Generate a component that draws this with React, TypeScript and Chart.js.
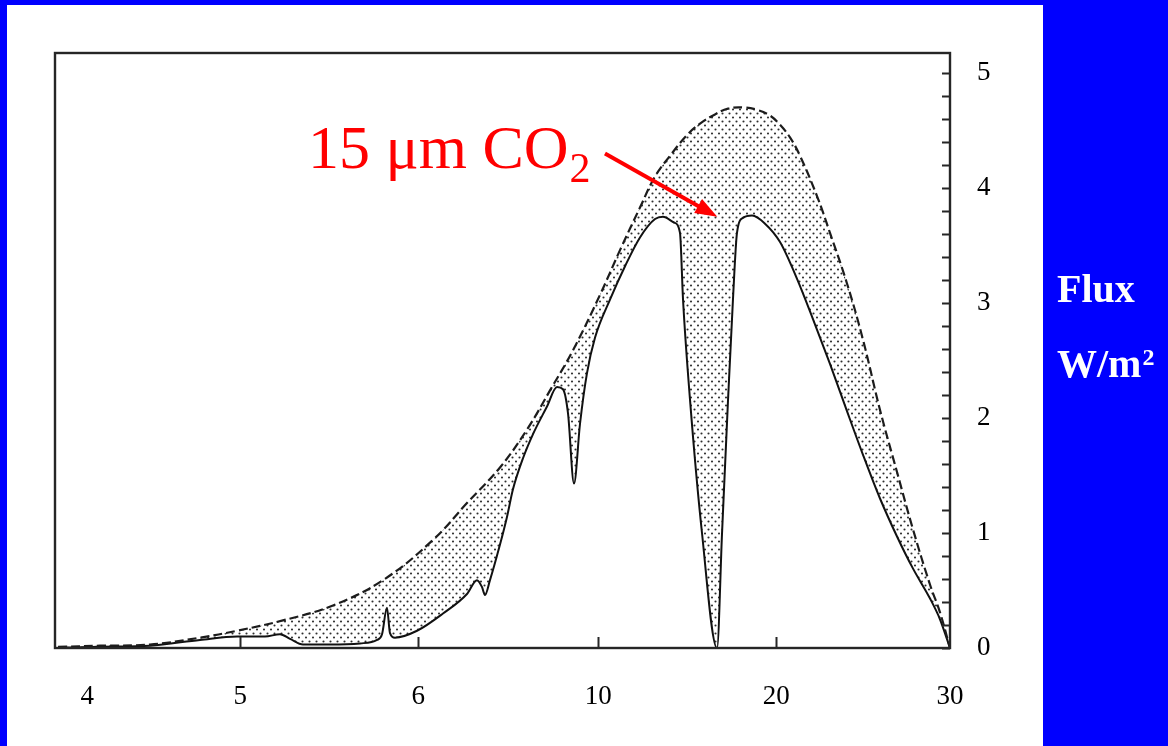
import React, { useEffect, useRef } from "react";
import { Chart, registerables } from "chart.js";

Chart.register(...registerables);

// Bottom axis: positions along a 0–100 span and the labels printed there
const xTickPositions = [3.6, 20.7, 40.6, 60.7, 80.6, 100];
const xTickLabels = ["4", "5", "6", "10", "20", "30"];
// Short upward tick marks on the bottom axis
const xTickMarks = [20.7, 40.6, 60.7, 80.6];

// Right axis: labelled values and the spacing of the small inward ticks
const yTickValues = [0, 1, 2, 3, 4, 5];
const yMinorStep = 0.2;
const yMax = 5.174;

// Blackbody envelope (dashed curve)
const envelopeX = [0.34, 5.03, 10.61, 16.2, 20.34, 25.47, 31.06, 36.65, 42.23, 46.03, 49.72, 52.74, 55.31, 57.88, 60.89, 63.13, 65.36, 67.04, 68.72, 70.61, 72.07, 73.74, 75.2, 76.87, 78.44, 79.89, 81.01, 82.12, 83.24, 85.14, 86.59, 88.49, 90.28, 92.18, 94.08, 95.87, 97.77, 98.88, 100];
const envelopeY = [0.01, 0.02, 0.03, 0.09, 0.15, 0.24, 0.37, 0.59, 0.94, 1.26, 1.57, 1.9, 2.24, 2.59, 3.07, 3.46, 3.83, 4.1, 4.28, 4.46, 4.56, 4.64, 4.69, 4.7, 4.68, 4.63, 4.55, 4.44, 4.28, 3.93, 3.61, 3.17, 2.68, 2.07, 1.53, 1.03, 0.55, 0.31, 0];

// Emitted spectrum (solid curve)
const emissionX = [0.34, 5.03, 10.61, 16.2, 20.34, 23.46, 25.14, 26.26, 27.71, 30.73, 34.08, 35.98, 36.54, 37.09, 37.43, 37.99, 40.45, 43.35, 46.03, 47.15, 47.71, 48.04, 48.6, 49.72, 50.5, 51.17, 52.29, 53.41, 54.97, 56.09, 56.76, 57.32, 57.99, 58.66, 59.44, 60.34, 62.01, 63.69, 65.36, 67.04, 67.93, 69.16, 69.83, 70.17, 70.95, 72.29, 73.97, 74.53, 75.2, 75.75, 76.2, 76.87, 77.88, 79.33, 81.01, 82.91, 84.69, 86.59, 88.49, 90.28, 92.18, 94.08, 95.87, 97.77, 98.88, 100];
const emissionY = [0, 0.01, 0.02, 0.07, 0.1, 0.1, 0.12, 0.08, 0.03, 0.03, 0.04, 0.07, 0.12, 0.35, 0.13, 0.09, 0.15, 0.3, 0.47, 0.59, 0.53, 0.46, 0.59, 0.9, 1.14, 1.38, 1.65, 1.86, 2.1, 2.27, 2.25, 2.04, 1.43, 1.95, 2.39, 2.7, 3.03, 3.32, 3.57, 3.73, 3.75, 3.7, 3.61, 3.03, 2.16, 1.0, 0, 1.0, 2.16, 3.03, 3.61, 3.74, 3.76, 3.69, 3.53, 3.21, 2.86, 2.47, 2.06, 1.68, 1.3, 0.97, 0.69, 0.43, 0.25, 0];

// CO2 callout: text anchor, arrow tail and arrow tip in data units
const calloutText = { x: 28.27, y: 4.17 };
const arrowTail = { x: 61.45, y: 4.3 };
const arrowTip = { x: 74.0, y: 3.75 };

const SERIF = '"Liberation Serif", "Times New Roman", serif';

function makeStipple(): CanvasPattern | string {
  const c = document.createElement("canvas");
  c.width = 7;
  c.height = 8;
  const g = c.getContext("2d");
  if (!g) return "#ddd";
  g.fillStyle = "rgba(35,35,35,0.95)";
  g.beginPath();
  g.arc(1.5, 1.5, 1.05, 0, Math.PI * 2);
  g.fill();
  g.beginPath();
  g.arc(5, 5.5, 1.05, 0, Math.PI * 2);
  g.fill();
  return g.createPattern(c, "repeat") || "#ddd";
}

const decor = {
  id: "decor",
  beforeDraw(chart: any) {
    const ctx = chart.ctx as CanvasRenderingContext2D;
    ctx.save();
    ctx.fillStyle = "#0000ff";
    ctx.fillRect(0, 0, chart.width, chart.height);
    ctx.fillStyle = "#ffffff";
    ctx.fillRect(7, 5, 1036, chart.height - 5);
    ctx.restore();
  },
  afterDraw(chart: any) {
    const ctx = chart.ctx as CanvasRenderingContext2D;
    const a = chart.chartArea;
    const x = chart.scales.x;
    const y = chart.scales.y;
    ctx.save();

    // plot frame
    ctx.strokeStyle = "#262626";
    ctx.lineWidth = 2.4;
    ctx.strokeRect(a.left, a.top, a.right - a.left, a.bottom - a.top);

    // inward ticks on the right axis
    ctx.lineWidth = 2;
    ctx.beginPath();
    const n = Math.round(yTickValues[yTickValues.length - 1] / yMinorStep);
    for (let i = 0; i <= n; i++) {
      const py = Math.round(y.getPixelForValue(i * yMinorStep)) + 0.5;
      ctx.moveTo(a.right, py);
      ctx.lineTo(a.right - 8, py);
    }
    // upward ticks on the bottom axis
    xTickMarks.forEach((v) => {
      const px = Math.round(x.getPixelForValue(v)) + 0.5;
      ctx.moveTo(px, a.bottom);
      ctx.lineTo(px, a.bottom - 11);
    });
    ctx.stroke();

    // CO2 callout
    ctx.fillStyle = "#ff0000";
    ctx.strokeStyle = "#ff0000";
    ctx.textBaseline = "alphabetic";
    ctx.textAlign = "left";
    const tx = x.getPixelForValue(calloutText.x);
    const ty = y.getPixelForValue(calloutText.y);
    ctx.font = `62px ${SERIF}`;
    const main = "15 \u03bcm CO";
    ctx.fillText(main, tx, ty);
    const w = ctx.measureText(main).width;
    ctx.font = `42px ${SERIF}`;
    ctx.fillText("2", tx + w + 1, ty + 14);

    const x0 = x.getPixelForValue(arrowTail.x);
    const y0 = y.getPixelForValue(arrowTail.y);
    const x1 = x.getPixelForValue(arrowTip.x);
    const y1 = y.getPixelForValue(arrowTip.y);
    const ang = Math.atan2(y1 - y0, x1 - x0);
    const headLen = 22;
    const headHalf = 8;
    const bx = x1 - headLen * Math.cos(ang);
    const by = y1 - headLen * Math.sin(ang);
    ctx.lineWidth = 4;
    ctx.beginPath();
    ctx.moveTo(x0, y0);
    ctx.lineTo(bx + 2 * Math.cos(ang), by + 2 * Math.sin(ang));
    ctx.stroke();
    ctx.beginPath();
    ctx.moveTo(x1, y1);
    ctx.lineTo(bx + headHalf * Math.sin(ang), by - headHalf * Math.cos(ang));
    ctx.lineTo(bx - headHalf * Math.sin(ang), by + headHalf * Math.cos(ang));
    ctx.closePath();
    ctx.fill();

    // axis title on the blue strip
    ctx.fillStyle = "#ffffff";
    ctx.font = `bold 40px ${SERIF}`;
    ctx.fillText("Flux", 1057, 302);
    ctx.fillText("W/m", 1057, 377);
    const wm = ctx.measureText("W/m").width;
    ctx.font = `bold 24px ${SERIF}`;
    ctx.fillText("2", 1057 + wm + 1, 365);

    ctx.restore();
  },
};

export default function App() {
  const ref = useRef<HTMLCanvasElement>(null);

  useEffect(() => {
    document.body.style.margin = "0";
    const canvas = ref.current;
    if (!canvas) return;
    const stipple = makeStipple();
    const chart = new Chart(canvas, {
      type: "line",
      data: {
        datasets: [
          {
            label: "Blackbody",
            data: envelopeX.map((v, i) => ({ x: v, y: envelopeY[i] })),
            borderColor: "#1c1c1c",
            borderWidth: 2.2,
            borderDash: [9, 4],
            pointRadius: 0,
            fill: false,
            tension: 0.4,
          },
          {
            label: "Emission",
            data: emissionX.map((v, i) => ({ x: v, y: emissionY[i] })),
            borderColor: "#111111",
            borderWidth: 2,
            pointRadius: 0,
            fill: { target: 0 },
            backgroundColor: stipple as any,
            cubicInterpolationMode: "monotone",
          },
        ],
      },
      options: {
        responsive: false,
        animation: false,
        devicePixelRatio: 1,
        layout: { padding: { left: 55, top: 53, right: 158, bottom: 0 } },
        plugins: {
          legend: { display: false },
          tooltip: { enabled: false },
        },
        scales: {
          x: {
            type: "linear",
            position: "bottom",
            min: 0,
            max: 100,
            afterBuildTicks: (s: any) => {
              s.ticks = xTickPositions.map((v) => ({ value: v }));
            },
            afterFit: (s: any) => {
              s.height = 98;
            },
            grid: { display: false, drawTicks: false },
            border: { display: false },
            ticks: {
              autoSkip: false,
              maxRotation: 0,
              padding: 33,
              color: "#000",
              font: { family: SERIF, size: 27 },
              callback: (_v: any, i: number) => xTickLabels[i],
            },
          },
          y: {
            type: "linear",
            position: "right",
            min: 0,
            max: yMax,
            afterBuildTicks: (s: any) => {
              s.ticks = yTickValues.map((v) => ({ value: v }));
            },
            afterFit: (s: any) => {
              s.width = 60;
            },
            grid: { display: false, drawTicks: false },
            border: { display: false },
            ticks: {
              padding: 27,
              color: "#000",
              font: { family: SERIF, size: 27 },
              callback: (v: any) => String(v),
            },
          },
        },
      },
      plugins: [decor],
    });
    return () => chart.destroy();
  }, []);

  return (
    <div style={{ width: 1168, height: 746, position: "relative" }}>
      <canvas ref={ref} width={1168} height={746} style={{ display: "block" }} />
    </div>
  );
}
